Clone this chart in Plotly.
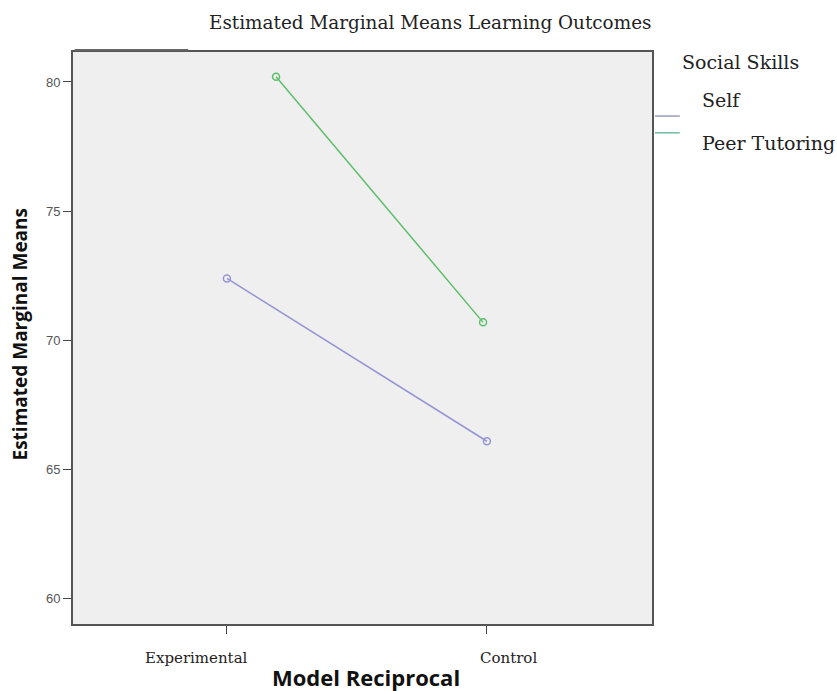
import plotly.graph_objects as go

categories = ["Experimental", "Control"]
self_means = [72.4, 66.1]
peer_means = [80.2, 70.7]
series_names = ["Self", "Peer Tutoring"]
legend_title = "Social Skills"
y_ticks = [60, 65, 70, 75, 80]

blue = "#9494d6"
green = "#5dbf6c"
legend_line_colors = ["#9a9ab8", "#6cc0a0"]
serif = "DejaVu Serif"

fig = go.Figure()
fig.add_trace(go.Scatter(x=categories, y=self_means, name=series_names[0], mode="lines+markers",
                         line=dict(color=blue, width=1.5), showlegend=False,
                         marker=dict(symbol="circle-open", size=7, color=blue, line=dict(width=1.5))))
fig.add_trace(go.Scatter(x=categories, y=peer_means, name=series_names[1], mode="lines+markers",
                         line=dict(color=green, width=1.5), showlegend=False,
                         marker=dict(symbol="circle-open", size=7, color=green, line=dict(width=1.5)),
                         xaxis="x2"))

annotations = [
    dict(text="<b>Model Reciprocal</b>", xref="paper", yref="paper", x=0.506, y=-0.0927,
         xanchor="center", yanchor="middle", showarrow=False,
         font=dict(family="Open Sans", size=22, color="#111")),
    dict(text="<b>Estimated Marginal Means</b>", xref="paper", yref="paper", x=-0.0907, y=0.507,
         xanchor="center", yanchor="middle", textangle=-90, showarrow=False,
         font=dict(family="Open Sans", size=19, color="#111")),
    dict(text=legend_title, xref="paper", yref="paper", x=1.048, y=0.9825,
         xanchor="left", yanchor="middle", showarrow=False,
         font=dict(family=serif, size=19, color="#222")),
]
for cat, shift in zip(categories, [-30, 22]):
    annotations.append(dict(text=cat, xref="x", yref="paper", x=cat, y=-0.0594, xshift=shift,
                            xanchor="center", yanchor="middle", showarrow=False,
                            font=dict(family=serif, size=15, color="#222")))
shapes = [dict(type="line", xref="paper", yref="paper", x0=0.003, x1=0.199, y0=1.0035, y1=1.0035,
               line=dict(color="#666", width=2))]
for name, ty, ly, col in zip(series_names, [0.916, 0.841], [0.888, 0.8587], legend_line_colors):
    annotations.append(dict(text=name, xref="paper", yref="paper", x=1.083, y=ty,
                            xanchor="left", yanchor="middle", showarrow=False,
                            font=dict(family=serif, size=19, color="#222")))
    shapes.append(dict(type="line", xref="paper", yref="paper", x0=1.005, x1=1.048, y0=ly, y1=ly,
                       line=dict(color=col, width=1.5)))

fig.update_layout(
    width=837, height=691,
    margin=dict(l=73, r=185, t=52, b=67),
    paper_bgcolor="white", plot_bgcolor="#efefef",
    title=dict(text="Estimated Marginal Means Learning Outcomes", x=0.514, xanchor="center",
               y=0.968, yanchor="middle",
               font=dict(family=serif, size=18.4, color="#222")),
    xaxis=dict(type="category", categoryarray=categories, range=[-0.592, 1.635],
               showgrid=False, zeroline=False, showline=True, linecolor="#555", linewidth=2,
               mirror=True, ticks="outside", ticklen=8, tickcolor="#444", tickwidth=1,
               showticklabels=False),
    xaxis2=dict(type="category", categoryarray=categories, range=[-0.981, 1.816],
                overlaying="x", anchor="y", visible=False),
    yaxis=dict(range=[59.03, 81.16], tickvals=y_ticks, showgrid=False, zeroline=False,
               showline=True, linecolor="#555", linewidth=2, mirror=True,
               ticks="outside", ticklen=8, tickcolor="#444",
               tickfont=dict(family="Liberation Sans", size=13, color="#555")),
    showlegend=False,
    shapes=shapes,
    annotations=annotations,
)

fig.write_html("out.html", post_script="document.body.style.margin='0';",
               config={"displayModeBar": False})
